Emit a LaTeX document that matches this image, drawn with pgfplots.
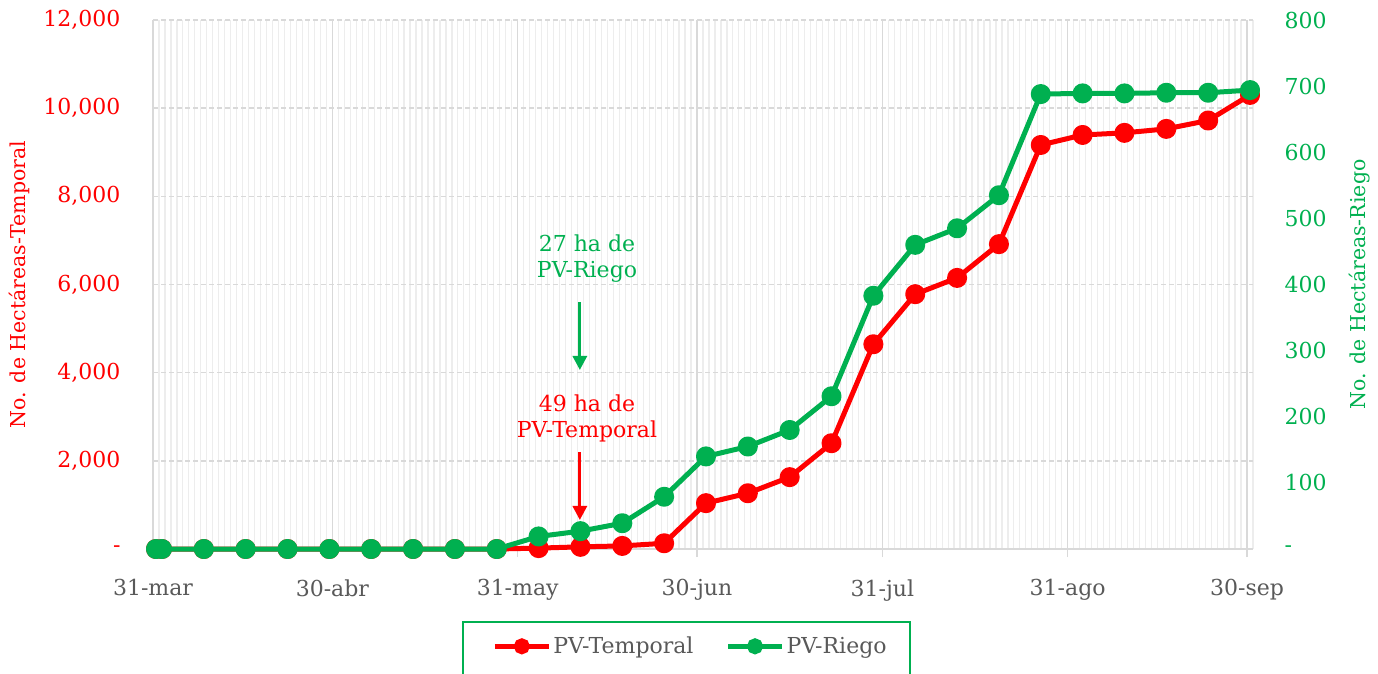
\documentclass[border=0pt]{standalone}
\usepackage{fontspec}
\setmainfont{DejaVu Serif}
\usepackage{pgfplots}
\pgfplotsset{compat=1.18}
\usepackage{pgfplotstable}
\usetikzlibrary{arrows.meta}
\definecolor{cred}{HTML}{FF0000}
\definecolor{cgreen}{HTML}{00B050}
\definecolor{tgray}{HTML}{595959}
\definecolor{gridc}{HTML}{D9D9D9}
\definecolor{mgridc}{HTML}{EDEDED}
\newcommand\f{\fontsize{22}{26}\selectfont}
\newcommand\fl{\fontsize{20.5}{25}\selectfont}

\pgfplotstableread{
x y
0.5 0
1.5 0
8.5 0
15.5 0
22.5 0
29.5 0
36.5 0
43.5 0
50.5 0
57.5 0
64.5 20
71.5 49
78.5 70
85.5 130
92.5 1040
99.5 1265
106.5 1630
113.5 2400
120.5 4645
127.5 5780
134.5 6150
141.5 6915
148.5 9165
155.5 9392
162.5 9440
169.5 9530
176.5 9720
183.5 10300
}\temporal

\pgfplotstableread{
x y
0.5 0
1.5 0
8.5 0
15.5 0
22.5 0
29.5 0
36.5 0
43.5 0
50.5 0
57.5 0
64.5 19
71.5 27
78.5 39
85.5 79
92.5 140
99.5 155
106.5 180
113.5 231
120.5 383
127.5 460
134.5 485
141.5 535
148.5 688
155.5 689
162.5 689
169.5 690
176.5 690
183.5 694
}\riego

\begin{document}
\begin{tikzpicture}
\useasboundingbox (0,0) rectangle (1378pt,673pt);
\pgfplotsset{
  common/.style={
    at={(153pt,124pt)}, anchor=south west,
    scale only axis, width=1100pt, height=529pt,
    xmin=0, xmax=184, clip=false, scaled y ticks=false,
  },
  legend image code/.code={\draw[#1, mark repeat=2, mark phase=2] plot coordinates {(0pt,0pt) (27pt,0pt) (54pt,0pt)};},
}
\begin{axis}[
  common,
  ymin=0, ymax=12000,
  axis x line*=bottom, axis y line*=left,
  y axis line style={draw=none},
  x axis line style={draw=gridc, line width=2pt},
  xtick={0,30,61,91,122,153,183},
  xticklabels={31-mar,30-abr,31-may,30-jun,31-jul,31-ago,30-sep},
  minor xtick={0,1,...,184},
  ytick={0,2000,4000,6000,8000,10000,12000},
  yticklabels={-,{2,000},{4,000},{6,000},{8,000},{10,000},{12,000}},
  xmajorgrids, xminorgrids, ymajorgrids,
  major x grid style={draw=gridc, line width=1.5pt},
  minor x grid style={draw=mgridc, line width=1.2pt},
  major y grid style={draw=gridc, line width=1.5pt, dash pattern=on 5pt off 3pt},
  x tick style={draw=gridc, line width=1.5pt},
  y tick style={draw=none},
  tick align=outside, major tick length=8pt, minor tick length=0pt,
  xticklabel style={font=\f, text=tgray, yshift=-19pt},
  yticklabel style={font=\f, text=cred, xshift=-21pt},
  ylabel={No. de Hectáreas-Temporal},
  ylabel style={font=\fl, text=cred, at={(axis description cs:-0.121,0.5)}, anchor=center},
]
\addplot[cred, line width=5pt, line join=round, mark=*, mark size=7.5pt, mark options={draw=none, fill=cred}] table[x=x,y=y] {\temporal};
\draw[cred, line width=3pt, -{Triangle[width=14pt,length=14pt]}] (axis cs:71.4,2200) -- (axis cs:71.4,658);
\draw[cgreen, line width=3pt, -{Triangle[width=14pt,length=14pt]}] (axis cs:71.4,5603) -- (axis cs:71.4,4061);
\node[font=\f, text=cgreen, align=center] at (axis cs:72.6,6579) {27 ha de\\PV-Riego};
\node[font=\f, text=cred, align=center] at (axis cs:72.6,2972) {49 ha de\\PV-Temporal};
\end{axis}
\begin{axis}[
  common,
  ymin=0, ymax=800,
  axis x line=none, axis y line*=right,
  y axis line style={draw=none},
  ytick={0,100,...,800},
  yticklabels={-,100,200,300,400,500,600,700,800},
  y tick style={draw=none},
  yticklabel style={font=\f, text=cgreen, xshift=28pt},
  ylabel={No. de Hectáreas-Riego},
  ylabel style={font=\fl, text=cgreen, at={(axis description cs:1.0973,0.5)}, anchor=center},
  legend style={at={(0.4886,-0.138)}, anchor=north, draw=none, fill=none,
    font=\f, text=tgray, legend columns=2, inner xsep=23pt, inner ysep=13pt,
    /tikz/every even column/.append style={column sep=30pt}},
]
\addlegendimage{cred, line width=5pt, mark=*, mark size=5.5pt, mark options={draw=none, fill=cred}}
\addlegendentry{PV-Temporal}
\addplot[cgreen, line width=5pt, line join=round, mark=*, mark size=7.5pt, mark options={draw=none, fill=cgreen}, forget plot] table[x=x,y=y] {\riego};
\addlegendimage{cgreen, line width=5pt, mark=*, mark size=5.5pt, mark options={draw=none, fill=cgreen}}
\addlegendentry{PV-Riego}
\draw[cgreen, line width=1.5pt] (axis description cs:0.2818,-0.138) rectangle (axis description cs:0.6882,-0.27);
\end{axis}
\end{tikzpicture}
\end{document}
